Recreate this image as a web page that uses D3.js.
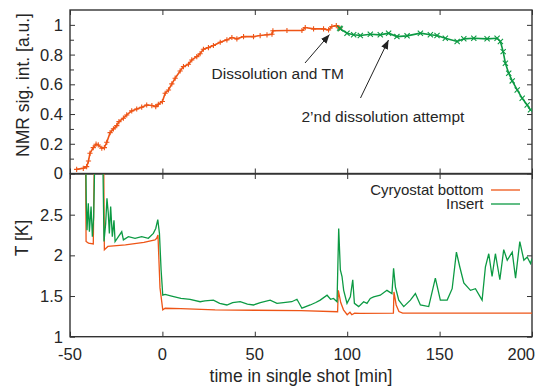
<!DOCTYPE html>
<html>
<head>
<meta charset="utf-8">
<script src="https://cdn.jsdelivr.net/npm/d3@7"></script>
<style>
  body { margin: 0; background: #fff; }
  svg { font-family: "Liberation Sans", Arial, sans-serif; }
  text { fill: #262626; }
</style>
</head>
<body>
<div id="chartContainer"></div>
<script>
// NMR signal, first part (orange) and after the transfer (green): [time min, signal a.u.]
var nmrFirst = [
  [-46.4, 0.028], [-42.8, 0.035], [-41, 0.046], [-40, 0.084], [-39.2, 0.136], [-37.4, 0.174],
  [-35.9, 0.197], [-34.7, 0.192], [-32.8, 0.17], [-31.4, 0.174], [-30.1, 0.21], [-28.3, 0.275],
  [-26.5, 0.30], [-24.7, 0.322], [-23.5, 0.349], [-21.1, 0.372], [-19.3, 0.394], [-16.6, 0.421],
  [-13.9, 0.434], [-11.2, 0.446], [-8.5, 0.461], [-5.7, 0.457], [-3.6, 0.45], [-2.2, 0.466],
  [0, 0.484], [1.5, 0.54], [3.3, 0.562], [5.1, 0.603], [6.9, 0.641], [9.6, 0.69], [11.4, 0.719],
  [14.1, 0.735], [15.9, 0.764], [18.6, 0.786], [20.4, 0.806], [22.2, 0.836], [24.9, 0.847],
  [27.6, 0.861], [31.3, 0.883], [34.9, 0.899], [37.6, 0.915], [40.3, 0.906], [43.9, 0.921],
  [49.3, 0.921], [52.9, 0.928], [56.6, 0.933], [59.3, 0.937], [59.8, 0.96], [67.4, 0.962],
  [75.5, 0.962], [77.3, 0.982], [81.8, 0.973], [87.2, 0.973], [89.9, 0.966], [91.7, 0.989],
  [94.1, 0.995], [95.9, 0.978]
]
var nmrSecond = [
  [95.9, 0.978], [96.3, 0.973], [99.9, 0.944], [103.5, 0.933], [107.1, 0.928], [112.5, 0.937],
  [117.9, 0.933], [122.4, 0.944], [126.9, 0.921], [132.4, 0.926], [139.6, 0.944], [145, 0.933],
  [148.6, 0.928], [153.1, 0.91], [159.5, 0.888], [163.1, 0.906], [168.5, 0.91], [175.7, 0.906],
  [181.1, 0.91], [182.9, 0.888], [184.4, 0.82], [185.6, 0.742], [187.4, 0.675], [189.3, 0.623],
  [192, 0.562], [194.7, 0.506], [197.4, 0.461], [199.2, 0.428]
]

// temperatures [time min, T K]; values above 3 K are off the scale
var cryostatBottom = [
  [-41.6, 3.3], [-41.3, 2.17], [-40, 2.15], [-37.4, 2.14], [-36.8, 3.3],
  [-31.8, 3.3], [-31.4, 2.07], [-29.5, 2.11], [-20, 2.13], [-10, 2.16], [-4, 2.19],
  [-3.1, 2.21], [-2.4, 2.25], [-1.3, 1.6], [0.2, 1.33], [1.5, 1.35], [10, 1.345],
  [28.5, 1.33], [50, 1.325], [75, 1.32], [94.8, 1.307], [95.2, 1.57], [96.5, 1.42],
  [98, 1.33], [100, 1.27], [101.5, 1.3], [102.5, 1.27], [104, 1.29], [107, 1.287],
  [125, 1.29], [125.3, 1.55], [126.5, 1.39], [128, 1.31], [130, 1.29], [150, 1.29], [200, 1.29]
]
var insert = [
  [-41.5, 3.3], [-41.2, 2.66], [-40.8, 2.31], [-40.1, 2.64], [-39.5, 2.29], [-38.6, 2.6],
  [-37.9, 2.23], [-37.2, 2.47], [-36.5, 3.3],
  [-32.3, 3.3], [-31.6, 2.17], [-30.7, 2.39], [-30, 2.7], [-29.3, 2.52], [-28.7, 2.27],
  [-28, 2.6], [-27.1, 2.23], [-26.2, 2.43], [-25.6, 2.17], [-23.8, 2.23], [-22, 2.29],
  [-21.1, 2.19], [-18.4, 2.23], [-14.8, 2.21], [-11.2, 2.23], [-7.6, 2.21], [-4.9, 2.27],
  [-3.6, 2.33], [-2.5, 2.44], [-1.6, 2.27], [-0.7, 1.82], [0.2, 1.51], [1.5, 1.52],
  [5, 1.5], [10, 1.47], [15, 1.46], [20.4, 1.43], [23, 1.44], [27.6, 1.45], [31, 1.41],
  [34.9, 1.39], [38, 1.42], [42.1, 1.43], [46, 1.4], [49.3, 1.39], [53, 1.42], [58.3, 1.45],
  [62, 1.41], [65.5, 1.42], [70, 1.43], [72.8, 1.46], [75.5, 1.35], [80, 1.39], [83, 1.42],
  [85.4, 1.45], [89.1, 1.51], [91, 1.46], [92.6, 1.47], [94.5, 1.43], [95.4, 2.33],
  [96.3, 1.82], [97.2, 1.74], [98.1, 1.57], [99.9, 1.41], [101.7, 1.49], [103, 1.7],
  [103.9, 1.41], [106.2, 1.37], [108.9, 1.43], [110.7, 1.41], [112.5, 1.47], [114.3, 1.49],
  [117.9, 1.51], [121.5, 1.57], [124.2, 1.53], [125.1, 1.84], [126.1, 1.61], [127.9, 1.45],
  [130.6, 1.37], [134.2, 1.45], [136.9, 1.53], [139.6, 1.39], [144.1, 1.37], [147.7, 1.72],
  [150.4, 1.45], [154.1, 1.45], [156.8, 1.59], [159.1, 2.04], [160.9, 1.86], [163.1, 1.66],
  [166.7, 1.57], [169.4, 1.59], [173, 1.45], [174.8, 1.86], [176.6, 2.02], [178.4, 1.74],
  [180.2, 2.02], [182.6, 1.7], [184.7, 2.07], [186.6, 1.94], [189.3, 2.04], [191.1, 1.72],
  [193.4, 2.17], [195.6, 1.94], [197.4, 1.98], [199.2, 1.9], [200, 1.96]
]

var xTicks = [-50, 0, 50, 100, 150, 200]
var nmrTicks = [0, 0.2, 0.4, 0.6, 0.8, 1]
var nmrMinorTicks = [0.1, 0.3, 0.5, 0.7, 0.9]
var tempTicks = [1, 1.5, 2, 2.5]
var legendLabels = ["Cyryostat bottom", "Insert"]

var orange = "#ee5517"
var green = "#0c9a43"
var ink = "#333"

var left = 70, right = 532
var svg = d3.select("#chartContainer").append("svg")
  .attr("width", 535).attr("height", 386)

var x = d3.scaleLinear().domain([-50, 200]).range([left, right])
var yTop = d3.scaleLinear().domain([0, 1.1]).range([173.5, 10])
var yBot = d3.scaleLinear().domain([1, 3]).range([336.7, 174])

svg.append("clipPath").attr("id", "clipBot").append("rect")
  .attr("x", left).attr("y", yBot(3)).attr("width", right - left).attr("height", yBot(1) - yBot(3))
svg.append("clipPath").attr("id", "clipTop").append("rect")
  .attr("x", left).attr("y", yTop(1.1)).attr("width", right - left).attr("height", yTop(0) - yTop(1.1))

function drawFrame(y, yDomain) {
  var g = svg.append("g")
  // ticks on all four sides, pointing inward (like gnuplot)
  var top = y(yDomain[1]), bottom = y(yDomain[0])
  g.append("g").attr("transform", "translate(0," + bottom + ")")
    .call(d3.axisTop(x).tickValues(xTicks).tickSize(5).tickFormat(""))
  g.append("g").attr("transform", "translate(0," + top + ")")
    .call(d3.axisBottom(x).tickValues(xTicks).tickSize(5).tickFormat(""))
  g.selectAll(".domain").remove()
  g.selectAll("line").attr("stroke", ink).attr("stroke-width", 1)
  g.append("rect")
    .attr("x", left).attr("y", top).attr("width", right - left).attr("height", bottom - top)
    .attr("fill", "none").attr("stroke", ink).attr("stroke-width", 1.4)
  return g
}

function yTicks(g, y, major, minor) {
  g.append("g").attr("transform", "translate(" + left + ",0)")
    .call(d3.axisRight(y).tickValues(major).tickSize(5).tickFormat(""))
  g.append("g").attr("transform", "translate(" + right + ",0)")
    .call(d3.axisLeft(y).tickValues(major).tickSize(5).tickFormat(""))
  if (minor) {
    g.append("g").attr("transform", "translate(" + left + ",0)")
      .call(d3.axisRight(y).tickValues(minor).tickSize(4).tickFormat(""))
    g.append("g").attr("transform", "translate(" + right + ",0)")
      .call(d3.axisLeft(y).tickValues(minor).tickSize(4).tickFormat(""))
  }
  g.selectAll(".domain").remove()
  g.selectAll("line").attr("stroke", ink).attr("stroke-width", 1)
  g.selectAll(".ylab").data(major).enter().append("text")
    .attr("x", left - 7).attr("y", d => y(d)).attr("dy", "0.36em")
    .attr("text-anchor", "end").style("font-size", "16.5px")
    .text(d => d)
}

// ---- top panel: NMR signal
var gTop = drawFrame(yTop, [0, 1.1])
yTicks(gTop, yTop, nmrTicks, nmrMinorTicks)

function series(y, data, color, clip, marker) {
  var line = d3.line().x(d => x(d[0])).y(d => y(d[1]))
  var g = svg.append("g").attr("clip-path", "url(#" + clip + ")")
  g.append("path").datum(data)
    .attr("d", line).attr("fill", "none").attr("stroke", color)
    .attr("stroke-width", marker ? 1.6 : 1.3)
  if (marker) {
    var s = 2.6
    var sym = marker == "plus"
      ? d => "M" + (-s) + ",0H" + s + "M0," + (-s) + "V" + s
      : d => "M" + (-s) + "," + (-s) + "L" + s + "," + s + "M" + (-s) + "," + s + "L" + s + "," + (-s)
    g.selectAll("path.m").data(data).enter().append("path").attr("class", "m")
      .attr("transform", d => "translate(" + x(d[0]) + "," + y(d[1]) + ")")
      .attr("d", sym).attr("stroke", color).attr("stroke-width", 1.1).attr("fill", "none")
  }
}
series(yTop, nmrFirst, orange, "clipTop", "plus")
series(yTop, nmrSecond, green, "clipTop", "cross")

// annotations
svg.append("defs").append("marker")
  .attr("id", "arrow").attr("viewBox", "0 0 10 10").attr("refX", 10).attr("refY", 5)
  .attr("markerWidth", 9).attr("markerHeight", 9).attr("markerUnits", "userSpaceOnUse")
  .attr("orient", "auto")
  .append("path").attr("d", "M0,1L10,5L0,9Z").attr("fill", "#222")

function note(label, tx, ty, x1, y1, x2, y2) {
  svg.append("line").attr("x1", x1).attr("y1", y1).attr("x2", x2).attr("y2", y2)
    .attr("stroke", "#222").attr("stroke-width", 1).attr("marker-end", "url(#arrow)")
  svg.append("text").attr("x", tx).attr("y", ty).style("font-size", "15.5px").text(label)
}
note("Dissolution and TM", 211.5, 78.5, 305, 63, 329.5, 34.5)
note("2\u2019nd dissolution attempt", 301.5, 121.5, 360.5, 98, 388.5, 40)

svg.append("text")
  .attr("transform", "translate(23,85) rotate(-90)")
  .attr("text-anchor", "middle").attr("dy", "0.36em").style("font-size", "17.5px")
  .text("NMR sig. int. [a.u.]")

// ---- bottom panel: temperatures
var gBot = drawFrame(yBot, [1, 3])
yTicks(gBot, yBot, tempTicks, null)

series(yBot, cryostatBottom, orange, "clipBot", null)
series(yBot, insert, green, "clipBot", null)

// the last label is pushed in so it stays on the page
svg.selectAll(".xlab").data(xTicks).enter().append("text")
  .attr("x", (d, i) => i == xTicks.length - 1 ? 535 : x(d)).attr("y", 360)
  .attr("text-anchor", (d, i) => i == xTicks.length - 1 ? "end" : "middle")
  .style("font-size", "16.5px")
  .text(d => d)

svg.append("text")
  .attr("transform", "translate(22,238) rotate(-90)")
  .attr("text-anchor", "middle").attr("dy", "0.36em").style("font-size", "17.5px")
  .text("T [K]")

svg.append("text").attr("x", 301).attr("y", 382)
  .attr("text-anchor", "middle").style("font-size", "17.5px")
  .text("time in single shot [min]")

// legend
var legendColors = [orange, green]
var lg = svg.selectAll(".legend").data(legendLabels).enter().append("g")
  .attr("transform", (d, i) => "translate(0," + (190 + i * 14) + ")")
lg.append("text").attr("x", 483.5).attr("dy", "0.34em")
  .attr("text-anchor", "end").style("font-size", "15px").text(d => d)
lg.append("line").attr("x1", 491).attr("x2", 520)
  .attr("stroke", (d, i) => legendColors[i]).attr("stroke-width", 1.3)
</script>
</body>
</html>
